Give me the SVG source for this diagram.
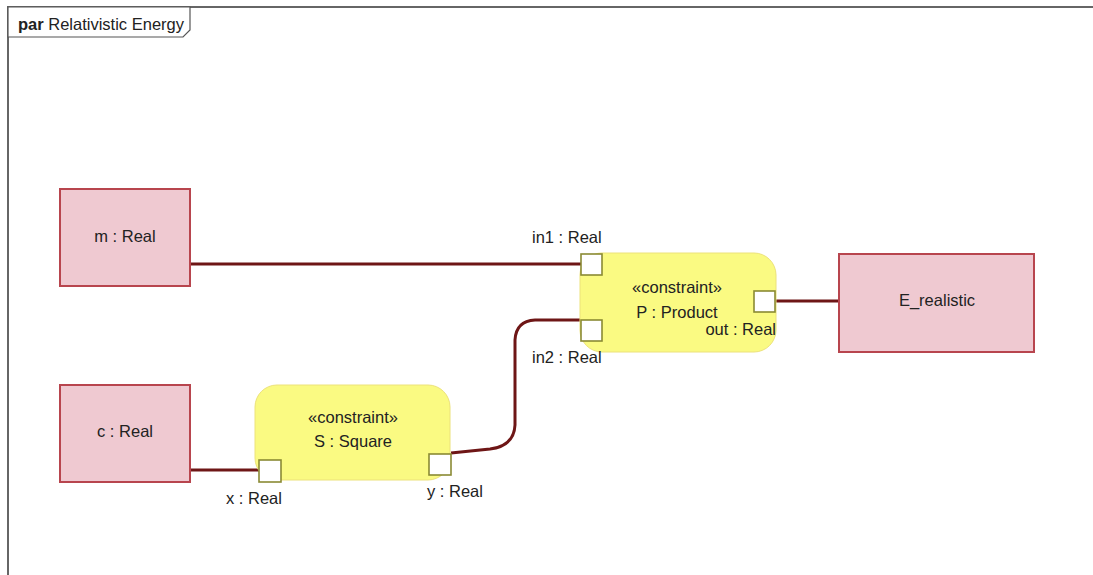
<svg xmlns="http://www.w3.org/2000/svg" width="1093" height="575" viewBox="0 0 1093 575">
<style>
text{font-family:"Liberation Sans",Arial,sans-serif;font-size:16.5px;fill:#222}
.blk{fill:#efc9d1;stroke:#b8454e;stroke-width:2}
.cst{fill:#fafa82;stroke:#ece27a;stroke-width:1}
.port{fill:#ffffff;stroke:#8a8a34;stroke-width:1.6}
.wire{fill:none;stroke:#6e1616;stroke-width:3}
.mid{text-anchor:middle}
</style>
<rect x="0" y="0" width="1093" height="575" fill="#ffffff"/>
<g id="frame">
<rect x="8" y="7" width="1100" height="580" fill="none" stroke="#666" stroke-width="2"/>
<polygon points="8,7 190,7 190,30 183,37 8,37" fill="#fff" stroke="#555" stroke-width="1.2"/>
<text x="18" y="30"><tspan font-weight="bold">par</tspan> Relativistic Energy</text>
</g>
<g id="connectors">
<path class="wire" d="M190,264 L582,264"/>
<path class="wire" d="M190,470 L260,470"/>
<path class="wire" d="M775,301 L839,301"/>
<path class="wire" d="M451,453 L490,449 Q514,446 515,425 L515,340 Q516,321 535,320 L582,320"/>
</g>
<g id="m">
<rect class="blk" x="60" y="189" width="130" height="97"/>
<text class="mid" x="125" y="242">m : Real</text>
</g>
<g id="c">
<rect class="blk" x="60" y="385" width="130" height="97"/>
<text class="mid" x="125" y="437">c : Real</text>
</g>
<g id="E_realistic">
<rect class="blk" x="839" y="254" width="195" height="98"/>
<text class="mid" x="937" y="306">E_realistic</text>
</g>
<g id="P">
<rect class="cst" x="580" y="253" width="196" height="99" rx="22" ry="22"/>
<text class="mid" x="677" y="293">«constraint»</text>
<text class="mid" x="677" y="318">P : Product</text>
<rect class="port" x="581" y="254" width="21" height="21"/>
<rect class="port" x="581" y="320" width="21" height="21"/>
<rect class="port" x="754" y="291" width="21" height="21"/>
<text x="532" y="243">in1 : Real</text>
<text x="532" y="363">in2 : Real</text>
<text x="776" y="335" text-anchor="end">out : Real</text>
</g>
<g id="S">
<rect class="cst" x="255" y="385" width="195" height="95" rx="22" ry="22"/>
<text class="mid" x="353" y="423">«constraint»</text>
<text class="mid" x="353" y="447">S : Square</text>
<rect class="port" x="259" y="460" width="22" height="22"/>
<rect class="port" x="429" y="454" width="22" height="21"/>
<text x="226" y="504">x : Real</text>
<text x="427" y="497">y : Real</text>
</g>
</svg>
